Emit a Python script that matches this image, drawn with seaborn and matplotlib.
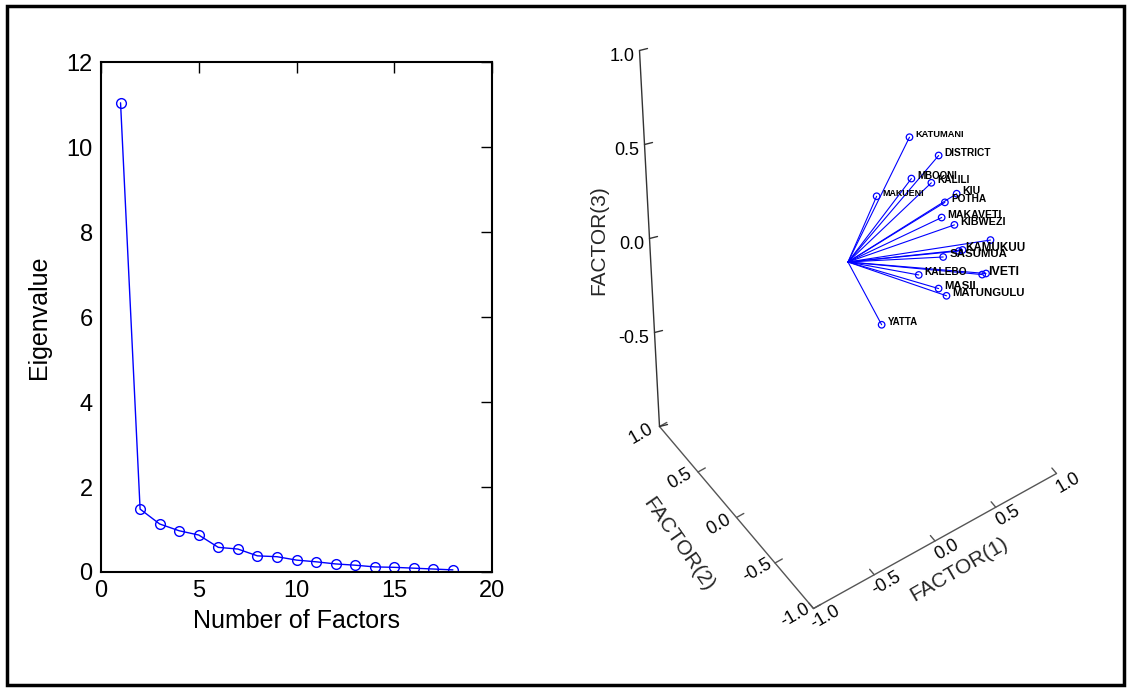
import numpy as np
import pandas as pd
import seaborn as sns
import matplotlib.pyplot as plt
from matplotlib.patches import Rectangle

sns.set_theme(style="white")
plt.rcParams['font.family'] = ['Liberation Sans Narrow', 'Liberation Sans', 'DejaVu Sans']

# scree plot data
factor_number = list(range(1, 19))
eigenvalues = [11.04, 1.48, 1.13, 0.97, 0.87, 0.58, 0.54, 0.38, 0.36,
               0.28, 0.24, 0.19, 0.16, 0.12, 0.11, 0.09, 0.07, 0.05]

# factor loadings (3 factors)
stations = ['KATUMANI', 'DISTRICT', 'MBOONI', 'KALILI', 'KIU', 'POTHA',
            'MAKAVETI', 'KIBWEZI', '', 'SASUMUA', 'KAMUKUU', '',
            'IVETI', '', 'KALEBO', 'MATUNGULU', 'YATTA', 'MAKUENI', 'MASII']
factor1 = [0.66, 0.77, 0.60, 0.70, 0.84, 0.80, 0.71, 0.78, 0.86,
           0.59, 0.69, 0.69, 0.75, 0.81, 0.56, 0.60, 0.30, 0.43, 0.54]
factor2 = [0.20, 0.00, 0.10, 0.00, -0.10, 0.00, -0.10, -0.15, -0.50,
           -0.30, -0.35, -0.40, -0.55, -0.50, 0.00, -0.30, 0.10, 0.30, -0.30]
factor3 = [0.33, 0.29, 0.18, 0.17, 0.11, 0.03, 0.03, -0.01, 0.05,
           -0.04, -0.02, 0.01, -0.07, -0.11, -0.27, -0.25, -0.49, 0.05, -0.19]
axis_ticks = [-1.0, -0.5, 0.0, 0.5, 1.0]

fig = plt.figure(figsize=(11.3, 6.91), dpi=100)

# ---- left panel : scree plot
ax = fig.add_axes([101 / 1130, 119 / 691, 391 / 1130, 510 / 691])
scree = pd.DataFrame({'factor': factor_number, 'eigenvalue': eigenvalues})
sns.lineplot(data=scree, x='factor', y='eigenvalue', ax=ax, color='blue',
             lw=1, marker='o', markersize=7, markerfacecolor='none',
             markeredgecolor='blue', markeredgewidth=1)
ax.set_xlim(0, 20)
ax.set_ylim(0, 12)
ax.set_xticks([0, 5, 10, 15, 20])
ax.set_yticks([0, 2, 4, 6, 8, 10, 12])
ax.tick_params(direction='in', length=8, width=1, top=True, right=True,
               labelsize=17, colors='black', pad=6)
ax.set_xlabel('Number of Factors', fontsize=18, labelpad=5, color='black')
ax.set_ylabel('Eigenvalue', fontsize=18, labelpad=11, color='black')
for sp in ax.spines.values():
    sp.set_color('black')
    sp.set_linewidth(1.5)

# ---- right panel : 3-D loading plot drawn with a fixed oblique projection
ax3 = fig.add_axes([0, 0, 1, 1])
ax3.set_xlim(0, 1130)
ax3.set_ylim(691, 0)
ax3.axis('off')

origin = np.array([848.0, 262.0])
e1 = np.array([121.5, -67.5])
e2 = np.array([-77.0, -91.0])
e3 = np.array([-10.0, -188.0])


def project(f1, f2, f3):
    f1, f2, f3 = np.atleast_1d(f1), np.atleast_1d(f2), np.atleast_1d(f3)
    pts = origin + np.outer(f1, e1) + np.outer(f2, e2) + np.outer(f3, e3)
    return pts[:, 0], pts[:, 1]


tick_font = dict(fontsize=13, color='black')
t = np.array(axis_ticks)
ones = np.ones_like(t)

# FACTOR(1) axis along the front bottom edge
x, y = project(t, -ones, -ones)
ax3.plot(x, y, color='#555555', lw=1)
for xi, yi, v in zip(x, y, t):
    ax3.plot([xi, xi + e2[0] * 0.06], [yi, yi + e2[1] * 0.06], color='#555555', lw=1)
    ax3.text(xi + 12, yi + 9, f'{v:.1f}', rotation=30, ha='center', va='center', **tick_font)
xm, ym = project(0, -1, -1)
ax3.text(xm[0] + 24, ym[0] + 28, 'FACTOR(1)', rotation=30, ha='center', va='center', fontsize=15)

# FACTOR(2) axis along the left bottom edge
x, y = project(-ones, t, -ones)
ax3.plot(x, y, color='#555555', lw=1)
for xi, yi, v in zip(x, y, t):
    ax3.plot([xi, xi + e1[0] * 0.06], [yi, yi + e1[1] * 0.06], color='#555555', lw=1)
    ax3.text(xi - 18, yi + 7, f'{v:.1f}', rotation=30, ha='center', va='center', **tick_font)
xm, ym = project(-1, 0, -1)
ax3.text(xm[0] - 58, ym[0] + 27, 'FACTOR(2)', rotation=-55, ha='center', va='center', fontsize=15)

# FACTOR(3) axis, vertical back edge
x, y = project(-ones, ones, t)
ax3.plot(x, y, color='#333333', lw=1)
for xi, yi, v in zip(x, y, t):
    ax3.plot([xi, xi + 8], [yi, yi - 2], color='#333333', lw=1)
    if v > -1:
        ax3.text(xi - 5, yi + 6, f'{v:.1f}', ha='right', va='center', **tick_font)
xm, ym = project(-1, 1, 0)
ax3.text(xm[0] - 51, ym[0] + 2, 'FACTOR(3)', rotation=90, ha='center', va='center', fontsize=15)

# loading vectors
ox, oy = project(0, 0, 0)
px, py = project(factor1, factor2, factor3)
for xi, yi in zip(px, py):
    ax3.plot([ox[0], xi], [oy[0], yi], color='blue', lw=0.8)
sns.scatterplot(x=px, y=py, ax=ax3, marker='o', s=22, facecolor='none',
                edgecolor='blue', linewidth=0.9, zorder=3)
for xi, yi, name, f2 in zip(px, py, stations, factor2):
    if name:
        ax3.text(xi + 6, yi - 3, name, fontsize=7.3 - 3 * f2, fontweight='heavy',
                 ha='left', va='center', color='black')
ax3.set_xlim(0, 1130)
ax3.set_ylim(691, 0)

# outer frame
fig.patches.append(Rectangle((7 / 1130, 6 / 691), 1117 / 1130, 679 / 691,
                             transform=fig.transFigure, fill=False,
                             lw=2.5, edgecolor='black'))

fig.savefig('out.png', dpi=100)
